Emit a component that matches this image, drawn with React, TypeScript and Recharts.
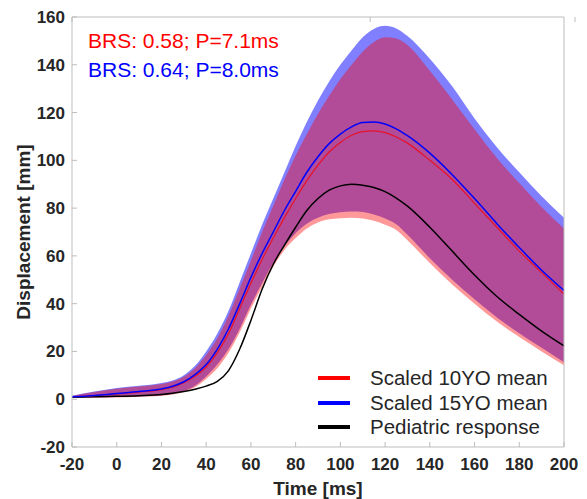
import React from "react";

//recharts
import { ComposedChart, Area, Line, XAxis, YAxis, Legend } from "recharts";

//data
const times = [
  -20, -10, 0, 10, 20, 25, 30, 35, 40, 45, 50, 55, 60, 65, 70, 75, 80, 85, 90,
  95, 100, 105, 110, 115, 120, 125, 130, 140, 150, 160, 170, 180, 190, 200,
];
const mean15 = [
  1, 1.6, 2.4, 3.2, 4.3, 5.4, 7.3, 10.3, 14.5, 21, 29.5, 40, 51, 61, 70, 79,
  87, 95, 101.5, 107, 111, 114, 115.8, 116, 115.2, 113.2, 110.3, 103, 94, 84,
  73.5, 63.5, 54, 45.5,
];
const mean10 = [
  1, 1.5, 2.2, 3, 4, 5, 6.9, 9.6, 13.5, 19.5, 27.5, 38, 48.5, 58.5, 67.5, 76,
  84, 91.5, 98, 103.5, 107.5, 110.5, 112, 112.3, 111.6, 109.8, 107.2, 100, 92,
  82, 72, 62, 53, 44,
];
const pediatric = [
  0.8, 1, 1.2, 1.5, 2, 2.5, 3.2, 4.2, 5.5, 7.5, 12, 21, 33, 46, 56.5, 64.5, 72,
  79, 84, 87.5, 89.3, 90, 89.6, 88.6, 86.9, 84.2, 80.8, 72, 62, 52, 43, 35.5,
  28.5, 22.3,
];
const high15 = [
  1.5, 3.2, 4.7, 5.6, 6.8, 7.8, 10, 14, 20, 27.5, 37, 49, 61, 73, 84, 95, 106,
  116, 125, 133, 140, 146, 151.5, 155, 156.3, 155.2, 152, 142.5, 131, 117.5,
  105.5, 95, 85, 76,
];
const low15 = [
  0.8, 0.8, 0.9, 1.2, 1.7, 2.3, 3.4, 5.6, 9.5, 14.5, 21, 29.5, 39.5, 48.5, 57,
  64, 69.5, 73.5, 76, 77.5, 78.3, 78.6, 78.4, 77.3, 75.6, 73.2, 68.8, 59, 50,
  41.8, 34.2, 27.6, 21.5, 15.5,
];
const high10 = [
  1.4, 3, 4.4, 5.3, 6.4, 7.4, 9.4, 13, 18.5, 25.5, 35, 46.5, 58, 70, 81, 92,
  102, 111, 119.5, 127, 134, 140, 145.5, 149.5, 151.5, 151, 148.3, 137.5,
  125.5, 113, 101, 90.5, 80.5, 71.5,
];
const low10 = [
  0.7, 0.6, 0.7, 1, 1.4, 2, 3, 5, 8.5, 13, 19.5, 28, 38, 47, 55.5, 62.5, 67.5,
  71.5, 74, 75.3, 75.8, 76, 75.7, 74.7, 73, 70.8, 66.5, 57, 48, 40, 32.5, 26,
  20, 14.2,
];

const xTicks = [-20, 0, 20, 40, 60, 80, 100, 120, 140, 160, 180, 200];
const yTicks = [-20, 0, 20, 40, 60, 80, 100, 120, 140, 160];

const legendItems = [
  { name: "Scaled 10YO mean", color: "#ff0000" },
  { name: "Scaled 15YO mean", color: "#0000ff" },
  { name: "Pediatric response", color: "#000000" },
];

const data = times.map((t, i) => ({
  t,
  band15: [low15[i], high15[i]],
  band10: [low10[i], high10[i]],
  mean10: mean10[i],
  mean15: mean15[i],
  pediatric: pediatric[i],
}));

//styles
const font = '"Liberation Sans", Arial, sans-serif';
const frame = "#bdbdbd";
const ink = "#262626";

const BottomTick = ({ x, y, payload }: any) => (
  <g>
    <line x1={x} x2={x} y1={y} y2={y - 5} stroke={frame} />
    <text x={x} y={y + 23} textAnchor="middle" fontSize={17} fontWeight="bold" fill={ink} fontFamily={font}>
      {payload.value}
    </text>
  </g>
);

const LeftTick = ({ x, y, payload }: any) => (
  <g>
    <line x1={x + 7} x2={x + 12} y1={y} y2={y} stroke={frame} />
    <text x={x} y={y + 6} textAnchor="end" fontSize={17} fontWeight="bold" fill={ink} fontFamily={font}>
      {payload.value}
    </text>
  </g>
);

const TopTick = ({ x, y }: any) => <line x1={x} x2={x} y1={y} y2={y + 5} stroke={frame} />;
const RightTick = ({ x, y }: any) => <line x1={x} x2={x - 5} y1={y} y2={y} stroke={frame} />;

const renderLegend = () => (
  <div style={{ fontFamily: font, fontSize: 20.5, color: ink }}>
    {legendItems.map((item) => (
      <div key={item.name} style={{ display: "flex", alignItems: "center", height: 24.5 }}>
        <div style={{ width: 32, height: 4, background: item.color, marginRight: 20 }} />
        <span>{item.name}</span>
      </div>
    ))}
  </div>
);

const App = () => {
  return (
    <div style={{ position: "absolute", left: 0, top: 0, width: 587, height: 499, background: "#fff" }}>
      <ComposedChart width={587} height={499} data={data} margin={{ top: 0, right: 0, left: 0, bottom: 0 }}>
        <XAxis
          dataKey="t"
          type="number"
          domain={[-20, 200]}
          ticks={xTicks}
          height={52}
          tickSize={0}
          tickMargin={0}
          tickLine={false}
          stroke={frame}
          tick={<BottomTick />}
          label={{
            content: ({ viewBox }: any) => (
              <text x={viewBox.x + viewBox.width / 2} y={495} textAnchor="middle" fontSize={19} fontWeight="bold" fill={ink} fontFamily={font}>
                Time [ms]
              </text>
            ),
          }}
        />
        <XAxis
          xAxisId="top"
          orientation="top"
          type="number"
          domain={[-20, 200]}
          ticks={xTicks}
          height={17}
          tickSize={0}
          tickMargin={0}
          tickLine={false}
          stroke={frame}
          tick={<TopTick />}
        />
        <YAxis
          type="number"
          domain={[-20, 160]}
          ticks={yTicks}
          width={72}
          tickSize={0}
          tickMargin={7}
          tickLine={false}
          stroke={frame}
          tick={<LeftTick />}
          label={{
            content: ({ viewBox }: any) => {
              const cx = 23;
              const cy = viewBox.y + viewBox.height / 2;
              return (
                <text x={cx} y={cy} transform={`rotate(-90 ${cx} ${cy})`} textAnchor="middle" dominantBaseline="central" fontSize={19} fontWeight="bold" fill={ink} fontFamily={font}>
                  Displacement [mm]
                </text>
              );
            },
          }}
        />
        <YAxis
          yAxisId="right"
          orientation="right"
          type="number"
          domain={[-20, 160]}
          ticks={yTicks}
          width={23}
          tickSize={0}
          tickMargin={0}
          tickLine={false}
          stroke={frame}
          tick={<RightTick />}
        />
        <Area type="monotone" dataKey="band15" stroke="none" fill="#0000ff" fillOpacity={0.5} isAnimationActive={false} activeDot={false} />
        <Area type="monotone" dataKey="band10" stroke="none" fill="#ff0000" fillOpacity={0.4} isAnimationActive={false} activeDot={false} />
        <Line type="monotone" dataKey="pediatric" stroke="#000000" strokeWidth={1.5} dot={false} isAnimationActive={false} />
        <Line type="monotone" dataKey="mean10" stroke="#e8102a" strokeWidth={1.2} dot={false} isAnimationActive={false} />
        <Line type="monotone" dataKey="mean15" stroke="#0000ff" strokeWidth={1.5} dot={false} isAnimationActive={false} />
        <Legend
          layout="horizontal"
          verticalAlign="middle"
          align="center"
          content={renderLegend}
          wrapperStyle={{ position: "absolute", left: 318, top: 366, width: 260, height: 75 }}
        />
      </ComposedChart>
      <div style={{ position: "absolute", left: 88, top: 30, fontFamily: font, fontSize: 21, lineHeight: "21px", color: "#ff0000", whiteSpace: "nowrap" }}>
        BRS: 0.58; P=7.1ms
      </div>
      <div style={{ position: "absolute", left: 88, top: 59, fontFamily: font, fontSize: 21, lineHeight: "21px", color: "#0000ff", whiteSpace: "nowrap" }}>
        BRS: 0.64; P=8.0ms
      </div>
    </div>
  );
};

export default App;
